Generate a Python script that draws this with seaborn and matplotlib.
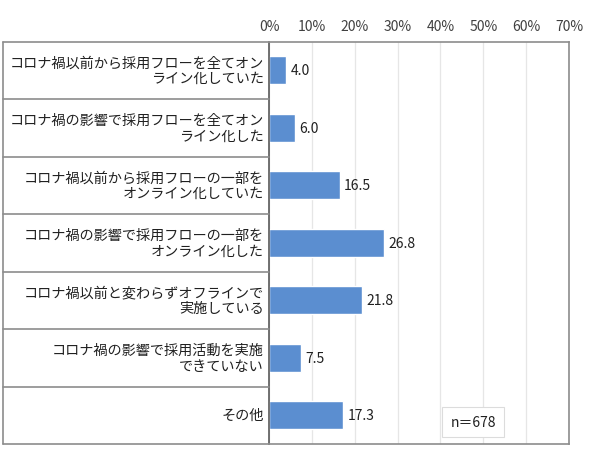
import matplotlib
matplotlib.use('Agg')
import matplotlib.pyplot as plt
import seaborn as sns
import pandas as pd
from matplotlib.lines import Line2D

sns.set_style('white')
plt.rcParams['font.family'] = ['Noto Sans CJK JP', 'DejaVu Sans']

# data
categories = [
    'コロナ禍以前から採用フローを全てオン\nライン化していた',
    'コロナ禍の影響で採用フローを全てオン\nライン化した',
    'コロナ禍以前から採用フローの一部を\nオンライン化していた',
    'コロナ禍の影響で採用フローの一部を\nオンライン化した',
    'コロナ禍以前と変わらずオフラインで\n実施している',
    'コロナ禍の影響で採用活動を実施\nできていない',
    'その他',
]
values = [4.0, 6.0, 16.5, 26.8, 21.8, 7.5, 17.3]
x_ticks = [0, 10, 20, 30, 40, 50, 60, 70]
n_label = 'n＝678'

df = pd.DataFrame({'cat': categories, 'val': values})

W, H = 590, 456
fig = plt.figure(figsize=(W / 100, H / 100), dpi=100)
left, right, top, bottom = 269, 569, 42.5, 445
ax = fig.add_axes([left / W, 1 - bottom / H, (right - left) / W, (bottom - top) / H])

sns.barplot(data=df, x='val', y='cat', orient='h', color='#5B8ED0',
            width=0.49, saturation=1, ax=ax)

ax.set_xlim(0, 70)
ax.set_xticks(x_ticks)
ax.set_xticklabels([f'{t}%' for t in x_ticks], fontsize=10, color='#404040')
ax.xaxis.tick_top()
ax.tick_params(axis='x', length=0, pad=6)
ax.set_yticks([])
ax.set_xlabel('')
ax.set_ylabel('')
ax.grid(axis='x', color='#e6e6e6', linewidth=0.9)
ax.set_axisbelow(True)

for s in ['top', 'bottom', 'right']:
    ax.spines[s].set_color('#8c8c8c')
    ax.spines[s].set_linewidth(1.2)
ax.spines['left'].set_color('#595959')
ax.spines['left'].set_linewidth(1.2)

# value labels
for i, v in enumerate(values):
    ax.text(v + 1.0, i, f'{v:.1f}', va='center', ha='left', fontsize=10, color='#202020')

# category table on the left
row_h = (bottom - top) / len(categories)
x0 = 3
line_kw = dict(color='#8c8c8c', linewidth=1.2, transform=fig.transFigure)
for k in range(len(categories) + 1):
    yy = 1 - (top + k * row_h) / H
    fig.add_artist(Line2D([x0 / W, left / W], [yy, yy], **line_kw))
fig.add_artist(Line2D([x0 / W, x0 / W], [1 - top / H, 1 - bottom / H], **line_kw))

for k, c in enumerate(categories):
    yc = 1 - (top + (k + 0.5) * row_h) / H
    fig.text((left - 5) / W, yc, c, ha='right', va='center', fontsize=10.2,
             color='#202020', linespacing=1.15, multialignment='right')

# n box
ax.text(0.68, 0.055, n_label, transform=ax.transAxes, ha='center', va='center',
        fontsize=10, color='#202020',
        bbox=dict(boxstyle='square,pad=0.6', facecolor='white', edgecolor='#dcdcdc', linewidth=0.8))

fig.savefig('out.png', dpi=100)
